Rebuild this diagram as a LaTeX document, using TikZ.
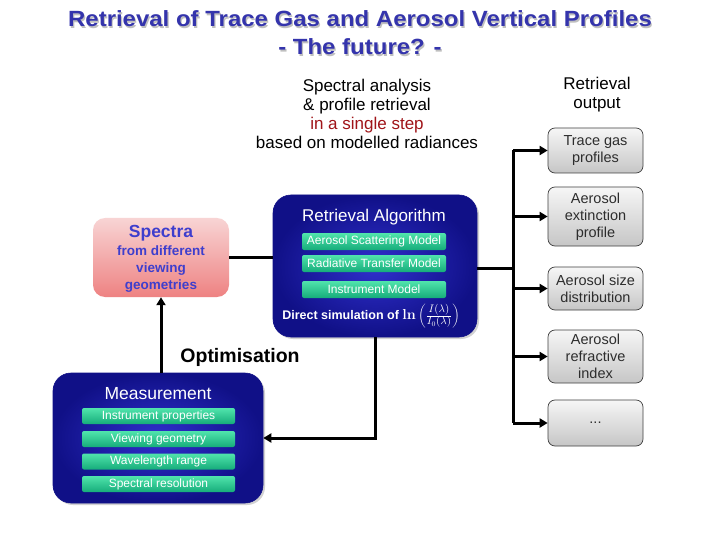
\documentclass[tikz,border=0pt]{standalone}
\usepackage[no-math]{fontspec}
\setmainfont{Liberation Sans}
\usetikzlibrary{arrows.meta,shadows}
\definecolor{titleblue}{RGB}{52,52,172}
\definecolor{darkred}{RGB}{160,20,25}
\definecolor{spblue}{RGB}{62,62,205}
\definecolor{navyA}{RGB}{48,48,205}
\definecolor{navyB}{RGB}{16,16,135}
\definecolor{greenA}{RGB}{80,228,172}
\definecolor{greenB}{RGB}{22,172,122}
\definecolor{pinkA}{RGB}{248,212,212}
\definecolor{pinkB}{RGB}{238,130,130}
\definecolor{grayA}{RGB}{246,246,246}
\definecolor{grayB}{RGB}{198,198,198}
\definecolor{boxtext}{RGB}{45,45,45}
\tikzset{
  bluebox/.style={rounded corners=18pt, inner color=navyA, outer color=navyB, draw=navyB, line width=0.6pt,
    drop shadow={shadow xshift=2pt, shadow yshift=-2pt, fill=black!35, opacity=0.5}},
  greenbar/.style={rounded corners=2pt, top color=greenA, bottom color=greenB, draw=none,
    text=white, font=\fontsize{12}{14}\selectfont, inner sep=0pt},
  outbox/.style={rounded corners=7pt, top color=grayA, bottom color=grayB, draw=black!75, line width=0.7pt,
    minimum width=95pt, text=boxtext, align=center, font=\fontsize{14.5}{17}\selectfont, inner sep=0pt},
  conn/.style={line width=3pt, draw=black},
  arr/.style={conn, -{Triangle[length=8pt,width=9pt]}},
}
\begin{document}
\begin{tikzpicture}[x=1pt,y=-1pt]
\useasboundingbox[fill=white] (0,0) rectangle (720,540);

% title
\node[text=black!25, font=\fontsize{22}{28}\selectfont\bfseries, align=center] at (361.2,34.2)
  {\scalebox{1.09}[1]{Retrieval of Trace Gas and Aerosol Vertical Profiles}\\\scalebox{1.09}[1]{- The future? -}};
\node (title) [text=titleblue, font=\fontsize{22}{28}\selectfont\bfseries, align=center] at (360,33)
  {\scalebox{1.09}[1]{Retrieval of Trace Gas and Aerosol Vertical Profiles}\\\scalebox{1.09}[1]{- The future? -}};

% central text
\node (spec) [align=center, font=\fontsize{17}{19}\selectfont] at (367,113.5)
  {Spectral analysis\\\& profile retrieval\\\textcolor{darkred}{in a single step}\\based on modelled radiances};

\node (outhead) [align=center, font=\fontsize{17}{19}\selectfont] at (597,94.5) {Retrieval\\output};

% spectra box
\node (spectra) [rounded corners=12pt, top color=pinkA, bottom color=pinkB, draw=none,
  minimum width=136pt, minimum height=79pt] at (161,257.5) {};
\node (spt) [text=spblue, font=\fontsize{17.5}{18}\selectfont\bfseries] at (161,233) {Spectra};
\node (spt2) [text=spblue, font=\fontsize{13.5}{17}\selectfont\bfseries, align=center] at (161,269)
  {from different\\viewing\\geometries};

% retrieval algorithm box
\node (ralg) [bluebox, minimum width=204pt, minimum height=142pt] at (375,266) {};
\node (ralgt) [text=white, font=\fontsize{17}{20}\selectfont] at (374,217) {Retrieval Algorithm};
\node (asm) [greenbar, minimum width=144pt, minimum height=17pt] at (374,241.5) {Aerosol Scattering Model};
\node (rtm) [greenbar, minimum width=144pt, minimum height=17pt] at (374,263.5) {Radiative Transfer Model};
\node (inm) [greenbar, minimum width=144pt, minimum height=17pt] at (374,289.5) {Instrument Model};
\node (dsim) [text=white, font=\fontsize{12.5}{14}\selectfont\bfseries, inner sep=0pt] at (371,316)
  {Direct simulation of {\fontsize{15}{17}\selectfont$\mathbf{ln}\left(\frac{I(\lambda)}{I_0(\lambda)}\right)$}};

% optimisation
\node (opt) [font=\fontsize{19.5}{20}\selectfont\bfseries] at (240,357) {Optimisation};

% measurement box
\node (meas) [bluebox, minimum width=210pt, minimum height=130pt] at (158,438) {};
\node (meast) [text=white, font=\fontsize{17.5}{20}\selectfont] at (158,394) {Measurement};
\node (ip) [greenbar, minimum width=153pt, minimum height=16pt] at (158.5,416) {Instrument properties};
\node (vg) [greenbar, minimum width=153pt, minimum height=16pt] at (158.5,439) {Viewing geometry};
\node (wr) [greenbar, minimum width=153pt, minimum height=16pt] at (158.5,461.5) {Wavelength range};
\node (sr) [greenbar, minimum width=153pt, minimum height=16pt] at (158.5,484) {Spectral resolution};

% output boxes
\node (trace) [outbox, minimum height=45pt] at (595.5,150.5) {Trace gas\\profiles};
\node (ext) [outbox, minimum height=59pt] at (595.5,216.5) {Aerosol\\extinction\\profile};
\node (size) [outbox, minimum height=43pt] at (595.5,288.5) {Aerosol size\\distribution};
\node (refr) [outbox, minimum height=53pt] at (595.5,356.5) {Aerosol\\refractive\\index};
\node (dots) [outbox, minimum height=46pt] at (595.5,423) {...};

% connectors
\coordinate (bx) at (513,268);
\draw[conn] (spectra.east) -- (spectra.east -| ralg.west);
\draw[conn] (ralg.east |- bx) -- (bx);
\draw[conn] (trace.west -| bx) -- (dots.west -| bx);
\foreach \n in {trace,ext,size,refr,dots}
  \draw[arr] (\n.west -| bx) -- (\n.west);
\draw[arr] (spectra.south |- meas.north) -- (spectra.south);
\draw[arr] (ralg.south) |- (meas.east);
\end{tikzpicture}
\end{document}
